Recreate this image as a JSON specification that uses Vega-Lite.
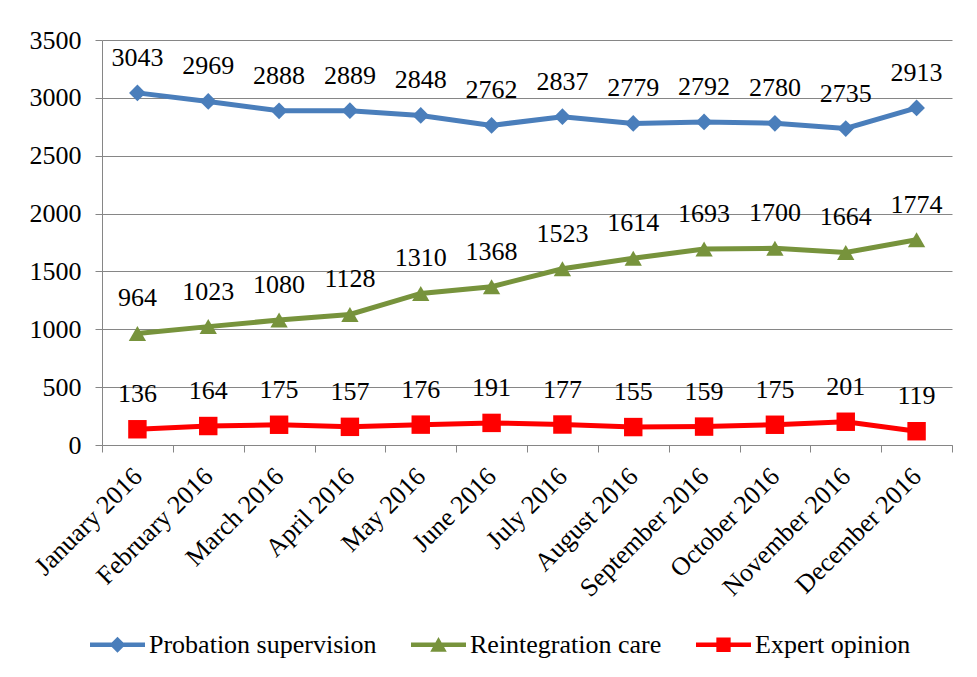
{
  "$schema": "https://vega.github.io/schema/vega-lite/v6.json",
  "width": 850,
  "height": 405,
  "autosize": {"type": "none"},
  "padding": {"left": 102, "top": 40, "right": 25, "bottom": 232},
  "background": "white",
  "config": {
    "font": "Liberation Serif",
    "view": {"stroke": null},
    "axis": {"labelFont": "Liberation Serif", "labelColor": "black", "domainColor": "#868686", "tickColor": "#868686", "gridColor": "#868686"},
    "legend": {"labelFont": "Liberation Serif"}
  },
  "data": {"values": [
    {"month": "January 2016", "series": "Probation supervision", "value": 3043},
    {"month": "February 2016", "series": "Probation supervision", "value": 2969},
    {"month": "March 2016", "series": "Probation supervision", "value": 2888},
    {"month": "April 2016", "series": "Probation supervision", "value": 2889},
    {"month": "May 2016", "series": "Probation supervision", "value": 2848},
    {"month": "June 2016", "series": "Probation supervision", "value": 2762},
    {"month": "July 2016", "series": "Probation supervision", "value": 2837},
    {"month": "August 2016", "series": "Probation supervision", "value": 2779},
    {"month": "September 2016", "series": "Probation supervision", "value": 2792},
    {"month": "October 2016", "series": "Probation supervision", "value": 2780},
    {"month": "November 2016", "series": "Probation supervision", "value": 2735},
    {"month": "December 2016", "series": "Probation supervision", "value": 2913},
    {"month": "January 2016", "series": "Reintegration care", "value": 964},
    {"month": "February 2016", "series": "Reintegration care", "value": 1023},
    {"month": "March 2016", "series": "Reintegration care", "value": 1080},
    {"month": "April 2016", "series": "Reintegration care", "value": 1128},
    {"month": "May 2016", "series": "Reintegration care", "value": 1310},
    {"month": "June 2016", "series": "Reintegration care", "value": 1368},
    {"month": "July 2016", "series": "Reintegration care", "value": 1523},
    {"month": "August 2016", "series": "Reintegration care", "value": 1614},
    {"month": "September 2016", "series": "Reintegration care", "value": 1693},
    {"month": "October 2016", "series": "Reintegration care", "value": 1700},
    {"month": "November 2016", "series": "Reintegration care", "value": 1664},
    {"month": "December 2016", "series": "Reintegration care", "value": 1774},
    {"month": "January 2016", "series": "Expert opinion", "value": 136},
    {"month": "February 2016", "series": "Expert opinion", "value": 164},
    {"month": "March 2016", "series": "Expert opinion", "value": 175},
    {"month": "April 2016", "series": "Expert opinion", "value": 157},
    {"month": "May 2016", "series": "Expert opinion", "value": 176},
    {"month": "June 2016", "series": "Expert opinion", "value": 191},
    {"month": "July 2016", "series": "Expert opinion", "value": 177},
    {"month": "August 2016", "series": "Expert opinion", "value": 155},
    {"month": "September 2016", "series": "Expert opinion", "value": 159},
    {"month": "October 2016", "series": "Expert opinion", "value": 175},
    {"month": "November 2016", "series": "Expert opinion", "value": 201},
    {"month": "December 2016", "series": "Expert opinion", "value": 119}
  ]},
  "encoding": {
    "x": {
      "field": "month", "type": "nominal", "sort": null, "title": null,
      "scale": {"type": "band", "paddingInner": 0, "paddingOuter": 0},
      "axis": {"labelAngle": -45, "labelAlign": "right", "labelBaseline": "middle", "labelFont": "Liberation Serif", "labelFontSize": 26, "tickBand": "extent", "tickSize": 7, "labelPadding": 20, "domainWidth": 1, "labelLimit": 300}
    },
    "y": {
      "field": "value", "type": "quantitative", "title": null,
      "scale": {"domain": [0, 3500], "nice": false},
      "axis": {"values": [0, 500, 1000, 1500, 2000, 2500, 3000, 3500], "format": "d", "labelFont": "Liberation Serif", "labelFontSize": 26, "tickSize": 7, "labelPadding": 14, "grid": true, "gridWidth": 1}
    }
  },
  "layer": [
    {
      "mark": {"type": "point", "filled": true, "opacity": 0},
      "encoding": {
        "fill": {"field": "series", "type": "nominal",
          "scale": {"domain": ["Probation supervision", "Reintegration care", "Expert opinion"], "range": ["#4A7EBB", "#77933C", "#FF0000"]},
          "legend": {"title": null, "orient": "none", "direction": "horizontal", "legendX": -12, "legendY": 577, "labelFontSize": 26, "labelFont": "Liberation Serif", "labelColor": "black", "symbolSize": 3025, "symbolOpacity": 1, "symbolStrokeWidth": 0, "columnPadding": 34, "labelOffset": 4, "labelLimit": 400}},
        "shape": {"field": "series", "type": "nominal",
          "legend": {"title": null, "orient": "none", "direction": "horizontal", "legendX": -12, "legendY": 577, "labelFontSize": 26, "labelFont": "Liberation Serif", "labelColor": "black", "symbolSize": 3025, "symbolOpacity": 1, "symbolStrokeWidth": 0, "columnPadding": 34, "labelOffset": 4, "labelLimit": 400},
          "scale": {"domain": ["Probation supervision", "Reintegration care", "Expert opinion"], "range": [
            "M-1,-0.08 L1,-0.08 L1,0.08 L-1,0.08 Z M0,-0.29 L0.29,0 L0,0.29 L-0.29,0 Z",
            "M-1,-0.08 L1,-0.08 L1,0.08 L-1,0.08 Z M0,-0.28 L0.3,0.25 L-0.3,0.25 Z",
            "M-1,-0.08 L1,-0.08 L1,0.08 L-1,0.08 Z M-0.26,-0.26 L0.26,-0.26 L0.26,0.26 L-0.26,0.26 Z"
          ]}
        }
      }
    },
    {"mark": {"type": "line", "strokeWidth": 5},
     "encoding": {"color": {"field": "series", "type": "nominal", "legend": null,
       "scale": {"domain": ["Probation supervision", "Reintegration care", "Expert opinion"], "range": ["#4A7EBB", "#77933C", "#FF0000"]}}}},
    {
      "transform": [{"filter": "datum.series === 'Probation supervision'"}],
      "mark": {"type": "point", "filled": true, "opacity": 1, "size": 280, "shape": "diamond", "color": "#4A7EBB"}
    },
    {
      "transform": [{"filter": "datum.series === 'Reintegration care'"}],
      "mark": {"type": "point", "filled": true, "opacity": 1, "size": 300, "shape": "triangle-up", "color": "#77933C"}
    },
    {
      "transform": [{"filter": "datum.series === 'Expert opinion'"}],
      "mark": {"type": "point", "filled": true, "opacity": 1, "size": 340, "shape": "square", "color": "#FF0000"}
    },
    {
      "mark": {"type": "text", "dy": -35, "fontSize": 26, "font": "Liberation Serif", "color": "black"},
      "encoding": {"text": {"field": "value", "type": "quantitative"}}
    }
  ]
}
